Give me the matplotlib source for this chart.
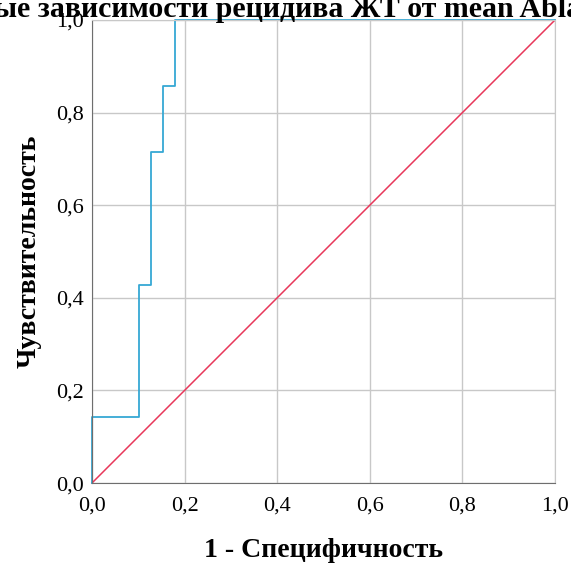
import numpy as np
import matplotlib.pyplot as plt
from matplotlib.ticker import FuncFormatter

# ROC curve points (1 - specificity, sensitivity)
fpr = [0.0, 0.0, 0.1026, 0.1026, 0.1282, 0.1282, 0.1538, 0.1538, 0.1795, 0.1795, 1.0]
tpr = [0.0, 0.1429, 0.1429, 0.4286, 0.4286, 0.7143, 0.7143, 0.8571, 0.8571, 1.0, 1.0]
ref_line = [0.0, 1.0]
ticks = [0.0, 0.2, 0.4, 0.6, 0.8, 1.0]

title = 'ROC-кривые зависимости рецидива ЖТ от mean Ablation Index'

plt.rcParams['font.family'] = ['Liberation Serif', 'DejaVu Serif']

fig = plt.figure(figsize=(5.71, 5.63), dpi=100)
ax = fig.add_axes([0.161, 0.142, 0.811, 0.8225])

ax.grid(True, color='#c8c8c8', linewidth=1)
ax.set_axisbelow(True)
ax.plot(ref_line, ref_line, color='#e8375a', linewidth=1.1, clip_on=False)
ax.plot(fpr, tpr, color='#36a8d4', linewidth=1.3, clip_on=False)

ax.set_xlim(0, 1)
ax.set_ylim(0, 1)
ax.set_xticks(ticks)
ax.set_yticks(ticks)
fmt = FuncFormatter(lambda v, p: '{:.1f}'.format(v).replace('.', ','))
ax.xaxis.set_major_formatter(fmt)
ax.yaxis.set_major_formatter(fmt)
ax.tick_params(length=0, labelsize=16, colors='black')
ax.tick_params(axis='y', pad=6)
ax.tick_params(axis='x', pad=10)

for s in ['top', 'right']:
    ax.spines[s].set_color('#c8c8c8')
for s in ['left', 'bottom']:
    ax.spines[s].set_color('#6e6e6e')

ax.set_xlabel('1 - Специфичность', fontsize=20, fontweight='bold')
ax.set_ylabel('Чувствительность', fontsize=20, fontweight='bold')
ax.xaxis.set_label_coords(0.5, -0.118)
ax.yaxis.set_label_coords(-0.108, 0.5)
fig.text(0.492, 0.984, title, ha='center', va='center', fontsize=21.5, fontweight='bold')

plt.savefig('out.png', dpi=100)
